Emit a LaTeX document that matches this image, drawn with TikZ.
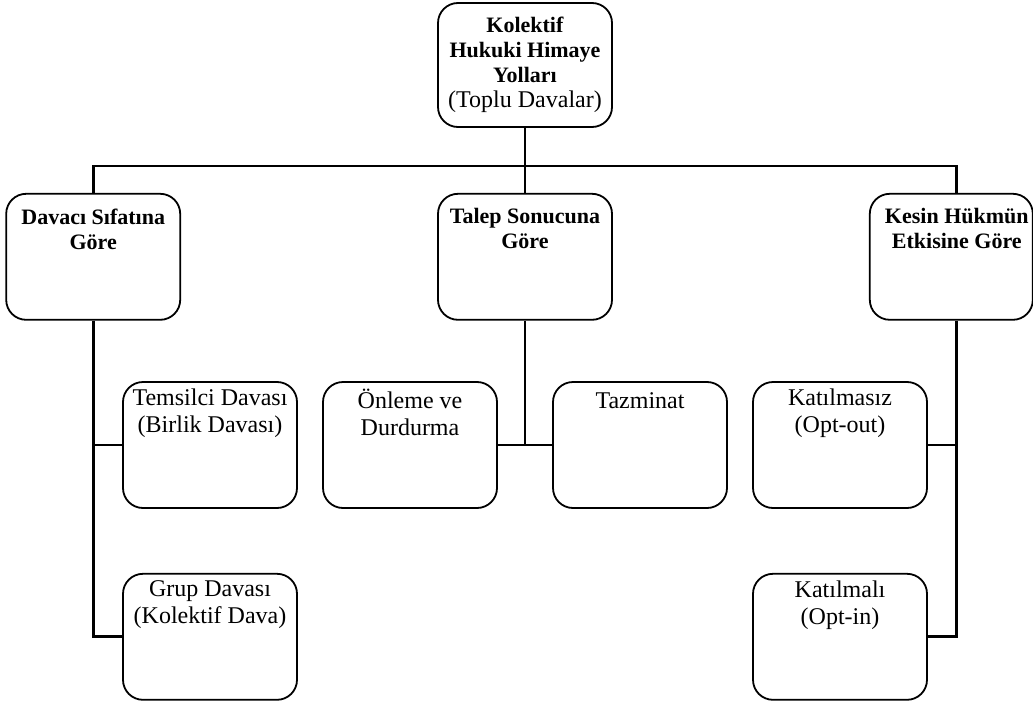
\documentclass[tikz,border=0pt]{standalone}
\usepackage{fontspec}
\setmainfont{Liberation Serif}
\usetikzlibrary{positioning}
\tikzset{main box/.style={draw,rounded corners=10pt,line width=0.9pt,minimum width=87pt,minimum height=63pt,inner sep=0pt},
  box text/.style={anchor=north,align=center,inner sep=0pt,yshift=-3.4pt,execute at begin node=\vphantom{Ö},
    font=\fontsize{12}{13.5}\selectfont},
  head text/.style={box text,yshift=-3.8pt,font=\fontsize{11}{12.5}\selectfont\bfseries},}

\begin{document}
\begin{tikzpicture}[x=0.5pt, y=-0.5pt, line width=1.4pt]
	\useasboundingbox (0,0) rectangle (1033,701);
	\node[main box, minimum height=62pt, align=center, font=\fontsize{12}{12.6}\selectfont] (root) at (525,65)
	    {\textbf{\fontsize{11}{12.6}\selectfont Kolektif}\\\textbf{\fontsize{11}{12.6}\selectfont Hukuki Himaye}\\
	     \textbf{\fontsize{11}{12.6}\selectfont Yolları}\\(Toplu Davalar)};
	\node[main box, label={[head text]north:{Talep Sonucuna\\Göre}}] (talep) [below=32.5pt of root] {};
	\node[main box, label={[head text]north:{Davacı Sıfatına\\Göre}}] (davaci) [left=128pt of talep] {};
	\node[main box, minimum width=81.5pt, label={[head text, xshift=2.75pt]north:{Kesin Hükmün\\Etkisine Göre}}] (kesin) [right=128pt of talep] {};

	\node[main box, label={[box text]north:{Temsilci Davası\\(Birlik Davası)}}] (temsilci) at (210,445) {};
	\node[main box, label={[box text]north:{Grup Davası\\(Kolektif Dava)}}] (grup) [below=32pt of temsilci] {};
	\node[main box, label={[box text]north:{Önleme ve\\Durdurma}}] (onleme) at (410,445) {};
	\node[main box, label={[box text]north:{Tazminat}}] (tazminat) at (640,445) {};
	\node[main box, label={[box text]north:{Katılmasız\\(Opt-out)}}] (katilmasiz) at (840,445) {};
	\node[main box, label={[box text]north:{Katılmalı\\(Opt-in)}}] (katilmali) [below=32pt of katilmasiz] {};

	% junction points of the tree
	\coordinate (top bar) at (525,166);
	\coordinate (talep join) at (talep.south |- onleme.east);
	\coordinate (kesin top) at ([xshift=2.75pt]kesin.north);
	\coordinate (kesin foot) at ([xshift=2.75pt]kesin.south);

	\draw (root.south) -- (top bar);
	\draw (davaci.north) |- (top bar) -| (kesin top);
	\draw (talep.north) -- (top bar);
	\draw (davaci.south) |- (grup.west);
	\draw (davaci.south |- temsilci.west) -- (temsilci.west);
	\draw (talep.south) -- (talep join);
	\draw (onleme.east) -- (tazminat.west);
	\draw (kesin foot) |- (katilmali.east);
	\draw (kesin foot |- katilmasiz.east) -- (katilmasiz.east);
\end{tikzpicture}
\end{document}
